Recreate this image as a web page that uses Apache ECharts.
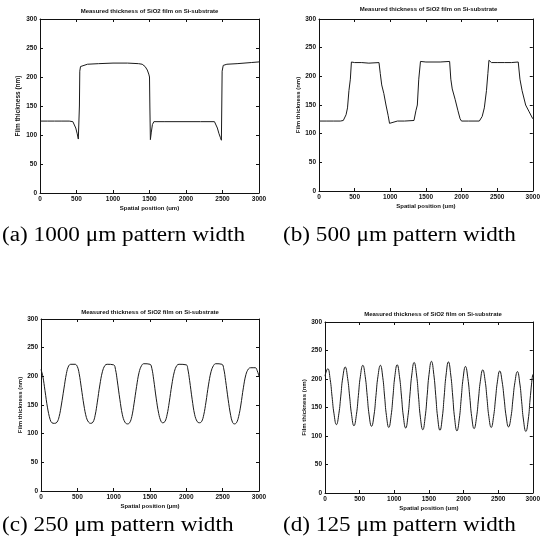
<!DOCTYPE html>
<html><head><meta charset="utf-8">
<script src="https://cdn.jsdelivr.net/npm/echarts@6/dist/echarts.min.js"></script>
<style>html,body{margin:0;padding:0;background:#fff}#c{width:543px;height:552px}</style>
</head><body><div id="c"></div>
<script>
// ---- text ----
const chartTitle = 'Measured thickness of SiO2 film on Si-substrate';
const yName = 'Film thickness (nm)';
const xNames = ['Spatial position (um)', 'Spatial position (um)', 'Spatial position (\u00b5m)', 'Spatial position (um)'];
const captions = ['(a) 1000 \u03bcm pattern width', '(b) 500 \u03bcm pattern width', '(c) 250 \u03bcm pattern width', '(d) 125 \u03bcm pattern width'];

// ---- axes ----
const xMin = 0, xMax = 3000, xStep = 500;
const yMin = 0, yMax = 300, yStep = 50;

// ---- data: [spatial position (um), thickness (nm)] ----
const seriesA = [[0,124],[100,124],[200,124],[300,124],[400,124],[450,123],[470,120],[490,112],[510,102],[525,93],[535,90],[540,150],[545,210],[555,218],[580,221],[650,222],[800,223],[1000,224],[1200,224],[1350,223],[1400,222],[1440,218],[1470,212],[1490,205],[1500,200],[1505,150],[1512,92],[1518,90],[1525,105],[1540,118],[1560,123],[1700,123],[2000,123],[2200,123],[2390,123],[2410,120],[2430,112],[2450,103],[2470,96],[2485,91],[2490,150],[2495,210],[2510,220],[2560,222],[2700,223],[2900,225],[3000,226]];
const seriesB = [[0,122],[100,122],[200,122],[300,122],[341,123],[360,125],[380,133],[400,145],[420,175],[440,195],[455,225],[500,224],[600,224],[700,223],[842,224],[860,205],[880,185],[910,170],[940,150],[970,132],[990,118],[1010,121],[1100,122],[1200,122],[1333,123],[1360,140],[1380,150],[1400,195],[1424,226],[1500,225],[1600,225],[1700,225],[1833,226],[1850,195],[1870,178],[1910,160],[1950,140],[1980,126],[2000,122],[2100,122],[2250,122],[2290,130],[2320,145],[2350,175],[2370,205],[2385,228],[2420,224],[2500,224],[2600,224],[2700,224],[2796,225],[2820,195],[2850,175],[2900,150],[2950,138],[3000,126]];
const seriesC = [[0,212],[25,200],[55,175],[90,145],[125,125],[150,119],[185,118],[220,120],[250,130],[280,150],[315,178],[350,205],[380,218],[410,221],[470,221],[500,217],[525,205],[555,180],[590,150],[625,128],[655,120],[683,118],[715,120],[745,132],[775,155],[810,185],[845,208],[880,219],[910,221],[1000,220],[1025,212],[1050,192],[1085,160],[1120,133],[1155,120],[1190,117],[1220,119],[1250,130],[1280,152],[1315,182],[1350,207],[1385,219],[1415,222],[1500,221],[1525,214],[1550,195],[1585,162],[1620,135],[1650,122],[1673,119],[1705,121],[1735,133],[1765,155],[1800,185],[1835,208],[1870,219],[1900,221],[2000,220],[2020,213],[2045,193],[2080,160],[2115,133],[2150,121],[2180,119],[2210,121],[2240,133],[2270,155],[2305,185],[2340,208],[2375,219],[2405,222],[2490,221],[2515,213],[2540,193],[2575,160],[2610,132],[2635,120],[2660,117],[2690,119],[2720,130],[2750,150],[2785,180],[2820,203],[2855,213],[2885,215],[2950,215],[2975,210],[3000,200]];
const seriesD = [[0,205],[20,214],[40,218],[75,199],[102,169],[130,139],[165,120],[200,139],[228,170],[256,202],[292,221],[327,201],[355,170],[383,138],[418,118],[454,138],[482,171],[510,204],[546,224],[581,204],[609,171],[637,137],[672,117],[708,137],[736,171],[764,204],[800,224],[834,203],[860,170],[887,136],[921,115],[955,136],[982,170],[1008,204],[1042,225],[1076,204],[1104,170],[1131,135],[1165,114],[1199,136],[1226,172],[1253,207],[1287,229],[1322,207],[1350,170],[1377,133],[1412,111],[1447,134],[1475,171],[1502,208],[1537,231],[1571,208],[1599,171],[1626,133],[1660,110],[1694,133],[1721,170],[1748,207],[1782,230],[1816,207],[1844,170],[1871,132],[1905,109],[1939,130],[1967,166],[1994,201],[2028,222],[2063,201],[2091,168],[2118,134],[2153,113],[2188,133],[2216,165],[2243,196],[2278,216],[2312,197],[2339,166],[2366,134],[2400,115],[2434,134],[2462,165],[2489,195],[2523,214],[2558,195],[2587,165],[2615,135],[2650,116],[2686,134],[2714,165],[2742,194],[2778,213],[2812,193],[2839,161],[2866,128],[2900,108],[2934,128],[2962,165],[2990,200],[3000,208]];
const allSeries = [seriesA, seriesB, seriesC, seriesD];
const smoothing = [false, false, 0.4, 0.5];

// ---- layout ----
const grids = [
  {left: 40, top: 19, width: 219, height: 174},
  {left: 319, top: 19, width: 219, height: 172},
  {left: 41, top: 319, width: 218, height: 172},
  {left: 325, top: 322, width: 216, height: 171}
];
const captionPos = [[2, 226], [283, 226], [2, 516], [283, 516]];
const titleY = [11, 9, 312, 314];

const font = 'Liberation Sans, Arial, sans-serif';
const ink = '#111';
const plain = v => String(v);
const xAxes = [], yAxes = [], series = [], graphics = [];
grids.forEach((g, i) => {
  const tick = {show: true, inside: true, length: 3, lineStyle: {color: ink, width: 1}};
  const line = {show: true, onZero: false, lineStyle: {color: ink, width: 1}};
  xAxes.push({type: 'value', gridIndex: i, position: 'bottom', min: xMin, max: xMax, interval: xStep,
    axisLine: line, axisTick: tick, splitLine: {show: false},
    axisLabel: {fontSize: 6.5, fontWeight: 'bold', color: ink, margin: 3, fontFamily: font, formatter: plain},
    name: xNames[i], nameLocation: 'middle', nameGap: 12,
    nameTextStyle: {fontSize: 6, fontWeight: 'bold', color: ink, fontFamily: font}});
  xAxes.push({type: 'value', gridIndex: i, position: 'top', min: xMin, max: xMax, interval: xStep,
    axisLine: line, axisTick: tick, splitLine: {show: false}, axisLabel: {show: false}});
  yAxes.push({type: 'value', gridIndex: i, position: 'left', min: yMin, max: yMax, interval: yStep,
    axisLine: line, axisTick: tick, splitLine: {show: false},
    axisLabel: {fontSize: 6.5, fontWeight: 'bold', color: ink, margin: 3, fontFamily: font, formatter: plain},
    name: yName, nameLocation: 'middle', nameGap: 18, nameRotate: 90,
    nameTextStyle: {fontSize: i === 0 ? 6.5 : 6, fontWeight: 'bold', color: ink, fontFamily: font}});
  yAxes.push({type: 'value', gridIndex: i, position: 'right', min: yMin, max: yMax, interval: yStep,
    axisLine: line, axisTick: tick, splitLine: {show: false}, axisLabel: {show: false}});
  series.push({type: 'line', xAxisIndex: i * 2, yAxisIndex: i * 2, data: allSeries[i], showSymbol: false,
    smooth: smoothing[i], lineStyle: {color: '#1a1a1a', width: 1}, silent: true});
  graphics.push({type: 'text', x: g.left + g.width / 2, y: titleY[i],
    style: {text: chartTitle, font: 'bold 6px ' + font, fill: ink, textAlign: 'center', textVerticalAlign: 'middle'}});
  graphics.push({type: 'text', x: captionPos[i][0], y: captionPos[i][1], scaleX: 1.16,
    style: {text: captions[i], font: '20px "Liberation Serif", "Times New Roman", serif', fill: '#000', textAlign: 'left', textVerticalAlign: 'top'}});
});

const chart = echarts.init(document.getElementById('c'), null, {renderer: 'canvas'});
chart.setOption({
  animation: false,
  backgroundColor: '#fff',
  grid: grids.map(g => Object.assign({containLabel: false}, g)),
  xAxis: xAxes,
  yAxis: yAxes,
  series: series,
  graphic: graphics
});
</script>
</body></html>
